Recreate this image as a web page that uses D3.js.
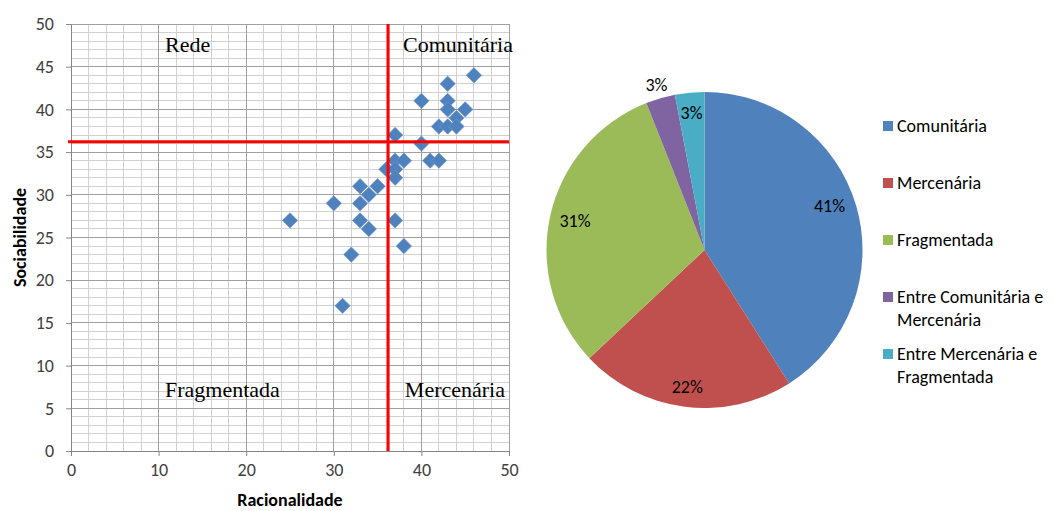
<!DOCTYPE html>
<html>
<head>
<meta charset="utf-8">
<script src="https://cdn.jsdelivr.net/npm/d3@7"></script>
<style>
  html, body { margin: 0; padding: 0; background: #fff; }
  svg { display: block; }
</style>
</head>
<body>
<svg id="chart" width="1053" height="511"></svg>
<script>
// Respondent scores: rationality (x) and sociability (y)
const racionalidade = [46, 43, 40, 43, 43, 45, 44, 42, 43, 44, 37, 40, 41, 42, 37, 38, 36, 37, 37, 35, 33, 34, 30, 33, 25, 33, 37, 34, 38, 32, 31];
const sociabilidade = [44, 43, 41, 41, 40, 40, 39, 38, 38, 38, 37, 36, 34, 34, 34, 34, 33, 33, 32, 31, 31, 30, 29, 29, 27, 27, 27, 26, 24, 23, 17];

// Quadrant cut-off values
const corteRacionalidade = 36.2;
const corteSociabilidade = 36.2;

// Quadrant names
const quadrantes = ["Rede", "Comunitária", "Fragmentada", "Mercenária"];

// Axis ticks
const ticksX = [0, 10, 20, 30, 40, 50];
const ticksY = [0, 5, 10, 15, 20, 25, 30, 35, 40, 45, 50];

// Share of each culture type (%)
const tipos = ["Comunitária", "Mercenária", "Fragmentada", "Entre Comunitária e Mercenária", "Entre Mercenária e Fragmentada"];
const percentuais = [41, 22, 31, 3, 3];
const legendaLinhas = [["Comunitária"], ["Mercenária"], ["Fragmentada"], ["Entre Comunitária e", "Mercenária"], ["Entre Mercenária e", "Fragmentada"]];

const cores = ["#4f81bd", "#c0504d", "#9bbb59", "#8064a2", "#4bacc6"];
const sansFont = "Carlito, Lato, 'Liberation Sans', sans-serif";
const serifFont = "'Liberation Serif', 'Times New Roman', serif";

const svg = d3.select("#chart");

// ---------- Scatter plot ----------
const plot = { left: 71, right: 509, top: 24, bottom: 451 };
const x = d3.scaleLinear().domain([0, 50]).range([plot.left, plot.right]);
const y = d3.scaleLinear().domain([0, 50]).range([plot.bottom, plot.top]);

const grid = svg.append("g");
// minor gridlines
grid.selectAll("line.vminor").data(d3.range(0, 51, 2))
  .join("line")
  .attr("x1", d => x(d)).attr("x2", d => x(d))
  .attr("y1", plot.top).attr("y2", plot.bottom)
  .attr("stroke", "#d0d0d0").attr("stroke-width", 1)
  .attr("shape-rendering", "crispEdges");
grid.selectAll("line.hminor").data(d3.range(0, 51, 1))
  .join("line")
  .attr("y1", d => y(d)).attr("y2", d => y(d))
  .attr("x1", plot.left).attr("x2", plot.right)
  .attr("stroke", "#d0d0d0").attr("stroke-width", 1)
  .attr("shape-rendering", "crispEdges");
// major gridlines
grid.selectAll("line.vmajor").data(ticksX)
  .join("line")
  .attr("x1", d => x(d)).attr("x2", d => x(d))
  .attr("y1", plot.top).attr("y2", plot.bottom)
  .attr("stroke", "#a0a0a0").attr("stroke-width", 1)
  .attr("shape-rendering", "crispEdges");
grid.selectAll("line.hmajor").data(ticksY)
  .join("line")
  .attr("y1", d => y(d)).attr("y2", d => y(d))
  .attr("x1", plot.left).attr("x2", plot.right)
  .attr("stroke", "#a0a0a0").attr("stroke-width", 1)
  .attr("shape-rendering", "crispEdges");

// axes
const xAxis = svg.append("g")
  .attr("transform", `translate(0,${plot.bottom})`)
  .call(d3.axisBottom(x).tickValues(ticksX).tickSize(5).tickPadding(7));
const yAxis = svg.append("g")
  .attr("transform", `translate(${plot.left},0)`)
  .call(d3.axisLeft(y).tickValues(ticksY).tickSize(5).tickPadding(12));
[xAxis, yAxis].forEach(a => {
  a.select(".domain").attr("stroke", "#868686");
  a.selectAll(".tick line").attr("stroke", "#868686");
  a.selectAll(".tick text")
    .attr("font-family", sansFont).attr("font-size", 18).attr("fill", "#404040");
});

// axis titles
svg.append("text")
  .attr("x", (plot.left + plot.right) / 2).attr("y", 506)
  .attr("text-anchor", "middle")
  .attr("font-family", sansFont).attr("font-size", 18).attr("font-weight", "bold")
  .attr("fill", "#000")
  .text("Racionalidade");
svg.append("text")
  .attr("transform", `translate(26,${(plot.top + plot.bottom) / 2}) rotate(-90)`)
  .attr("text-anchor", "middle")
  .attr("font-family", sansFont).attr("font-size", 18).attr("font-weight", "bold")
  .attr("fill", "#000")
  .text("Sociabilidade");

// quadrant labels
const quadPos = [
  { x: 165, y: 52, anchor: "start" },
  { x: 513, y: 52, anchor: "end" },
  { x: 165, y: 397, anchor: "start" },
  { x: 505, y: 397, anchor: "end" }
];
svg.append("g").selectAll("text").data(quadrantes)
  .join("text")
  .attr("x", (d, i) => quadPos[i].x).attr("y", (d, i) => quadPos[i].y)
  .attr("text-anchor", (d, i) => quadPos[i].anchor)
  .attr("font-family", serifFont).attr("font-size", 22)
  .attr("fill", "#000")
  .text(d => d);

// points (diamonds)
const diamond = d3.symbol().type(d3.symbolDiamond2).size(150);
svg.append("g").selectAll("path")
  .data(racionalidade.map((v, i) => [v, sociabilidade[i]]))
  .join("path")
  .attr("transform", d => `translate(${x(d[0])},${y(d[1])})`)
  .attr("d", diamond)
  .attr("fill", "#4f81bd")
  .attr("stroke", "#6b98cf").attr("stroke-width", 0.7);

// quadrant dividers
svg.append("line")
  .attr("x1", 68).attr("x2", plot.right)
  .attr("y1", y(corteSociabilidade)).attr("y2", y(corteSociabilidade))
  .attr("stroke", "#ff0000").attr("stroke-width", 3);
svg.append("line")
  .attr("x1", x(corteRacionalidade)).attr("x2", x(corteRacionalidade))
  .attr("y1", plot.top).attr("y2", plot.bottom)
  .attr("stroke", "#ff0000").attr("stroke-width", 3);

// ---------- Pie chart ----------
const cx = 704.5, cy = 250, r = 158;
const labelRadius = [0.84, 0.87, 0.84, 1.09, 0.87];
const labelAngleShift = [-0.06, 0, 0, 0, 0];
const pie = d3.pie().sort(null).value(d => d);
const arcs = pie(percentuais);
const arc = d3.arc().innerRadius(0).outerRadius(r);
const g = svg.append("g").attr("transform", `translate(${cx},${cy})`);
g.selectAll("path").data(arcs)
  .join("path")
  .attr("d", arc)
  .attr("fill", (d, i) => cores[i]);
const midAngle = (d, i) => (d.startAngle + d.endAngle) / 2 + labelAngleShift[i];
g.selectAll("text").data(arcs)
  .join("text")
  .attr("x", (d, i) => Math.sin(midAngle(d, i)) * r * labelRadius[i])
  .attr("y", (d, i) => -Math.cos(midAngle(d, i)) * r * labelRadius[i])
  .attr("dy", "0.35em")
  .attr("text-anchor", "middle")
  .attr("font-family", sansFont).attr("font-size", 18)
  .attr("fill", "#000")
  .text(d => d.data + "%");

// legend
const leg = svg.append("g").attr("transform", "translate(883,126)");
const item = leg.selectAll("g").data(tipos)
  .join("g")
  .attr("transform", (d, i) => `translate(0,${i * 57})`);
item.append("rect")
  .attr("x", 0).attr("y", -5).attr("width", 10).attr("height", 10)
  .attr("fill", (d, i) => cores[i]);
item.each(function (d, i) {
  const t = d3.select(this).append("text")
    .attr("font-family", sansFont).attr("font-size", 18).attr("fill", "#000");
  legendaLinhas[i].forEach((line, j) => {
    t.append("tspan").attr("x", 14).attr("y", j * 23).attr("dy", "0.35em").text(line);
  });
});
</script>
</body>
</html>
